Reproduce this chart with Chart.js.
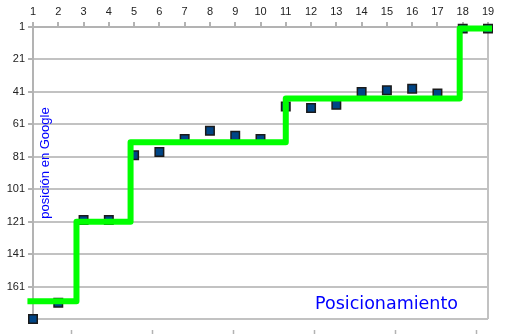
<!DOCTYPE html>
<html>
<head>
<meta charset="utf-8">
<title>Posicionamiento</title>
<script src="https://cdn.jsdelivr.net/npm/chart.js@4"></script>
<style>
    html, body { margin: 0; padding: 0; background: #fff; }
    #wrap { width: 510px; height: 334px; position: relative; }
</style>
</head>
<body>
<div id="wrap"><canvas id="chart"></canvas></div>
<script>
// Posición en Google por semana (1 = arriba)
const weeks = [1, 2, 3, 4, 5, 6, 7, 8, 9, 10, 11, 12, 13, 14, 15, 16, 17, 18, 19];
const ranking = [181, 171, 120, 120, 80, 78, 70, 65, 68, 70, 50, 51, 49, 41, 40, 39, 42, 2, 2];

// Escalones de la tendencia (verde)
const trendX = [0.78, 2.72, 4.86, 11, 17.88, 19.16];
const trendY = [170, 121, 72, 45, 2, 2];

// la última línea (181) no lleva etiqueta
const yTicks = [1, 21, 41, 61, 81, 101, 121, 141, 161, 181];
const yLabels = ['1', '21', '41', '61', '81', '101', '121', '141', '161', ''];
const bottomTicks = [0, 1, 2, 3, 4, 5];

const chartTitle = 'Posicionamiento';
const axisTitle = 'posición en Google';

const gridGray = '#c2c2c2';
const axisGray = '#b3b3b3';

// textos dentro del area del grafico
const insideText = {
    id: 'insideText',
    afterDraw(chart) {
        const { ctx, chartArea } = chart;
        ctx.save();
        ctx.fillStyle = '#0000ff';
        ctx.font = '13px "Liberation Sans", Arial, sans-serif';
        ctx.textAlign = 'center';
        ctx.textBaseline = 'alphabetic';
        ctx.translate(chartArea.left + 15.5, (chartArea.top + chartArea.bottom) / 2 - 10);
        ctx.rotate(-Math.PI / 2);
        ctx.fillText(axisTitle, 0, 0);
        ctx.restore();

        ctx.save();
        ctx.fillStyle = '#0000ff';
        ctx.font = '17.5px "DejaVu Sans", sans-serif';
        ctx.textAlign = 'right';
        ctx.textBaseline = 'alphabetic';
        ctx.fillText(chartTitle, chartArea.right - 30, chartArea.bottom - 10);
        ctx.restore();
    }
};

new Chart(document.getElementById('chart'), {
    type: 'scatter',
    data: {
        datasets: [
            {
                label: 'tendencia',
                data: trendX.map((x, i) => ({ x: x, y: trendY[i] })),
                showLine: true,
                stepped: true,
                borderColor: '#00ff00',
                borderWidth: 6,
                borderJoinStyle: 'round',
                pointRadius: 0,
                clip: false,
                order: 0
            },
            {
                label: 'posición',
                data: weeks.map((w, i) => ({ x: w, y: ranking[i] })),
                pointStyle: 'rect',
                pointRadius: 6,
                backgroundColor: '#004586',
                borderColor: '#1a1a1a',
                borderWidth: 1.5,
                clip: false,
                order: 1
            }
        ]
    },
    options: {
        responsive: true,
        maintainAspectRatio: false,
        animation: false,
        layout: { padding: { top: 0, left: 0, right: 22, bottom: 0 } },
        plugins: {
            legend: { display: false },
            tooltip: { enabled: false }
        },
        scales: {
            x: {
                type: 'linear',
                position: 'top',
                min: 1,
                max: 19,
                afterBuildTicks: s => { s.ticks = weeks.map(v => ({ value: v })); },
                afterFit: s => { s.height = 27; },
                ticks: {
                    autoSkip: false,
                    maxRotation: 0,
                    padding: 3,
                    color: '#222',
                    font: { family: '"Liberation Sans", Arial, sans-serif', size: 11 }
                },
                grid: {
                    color: c => c.index === weeks.length - 1 ? gridGray : 'transparent',
                    lineWidth: 2,
                    tickColor: axisGray,
                    tickWidth: 2,
                    tickLength: 5
                },
                border: { color: axisGray, width: 2 }
            },
            x2: {
                type: 'linear',
                position: 'bottom',
                min: -0.477,
                max: 5.136,
                afterBuildTicks: s => { s.ticks = bottomTicks.map(v => ({ value: v })); },
                afterFit: s => { s.height = 15; },
                ticks: { display: false },
                grid: {
                    drawOnChartArea: false,
                    tickLength: 15,
                    tickColor: axisGray,
                    tickWidth: 1.5,
                    tickBorderDash: [0, 11, 4, 20]
                },
                border: { display: false }
            },
            y: {
                type: 'linear',
                reverse: true,
                min: 1,
                max: 181,
                afterBuildTicks: s => { s.ticks = yTicks.map(v => ({ value: v })); },
                afterFit: s => { s.width = 33; },
                ticks: {
                    padding: 3,
                    color: '#222',
                    font: { family: '"Liberation Sans", Arial, sans-serif', size: 11 },
                    callback: (v, i) => yLabels[i]
                },
                grid: {
                    color: gridGray,
                    lineWidth: 2,
                    tickColor: axisGray,
                    tickLength: 5
                },
                border: { color: axisGray, width: 2 }
            }
        }
    },
    plugins: [insideText]
});
</script>
</body>
</html>
